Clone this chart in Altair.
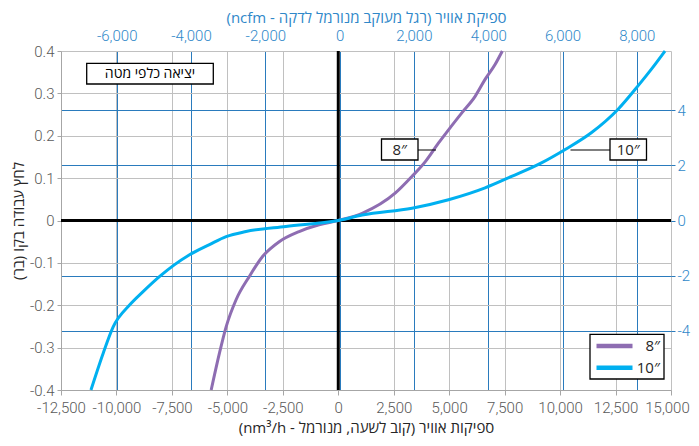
import altair as alt
import pandas as pd

# ---------------- data ----------------
series = ["8\u2033", "10\u2033"]
colors = ["#8e6db2", "#00b0f0"]

x8 = [-5730, -5357, -5056, -4607, -4010, -3413, -2663, -1765, -866, 0,
      1078, 2577, 3323, 3925, 4522, 4971, 5570, 6170, 6619, 7068, 7396]
y8 = [-0.4, -0.313, -0.251, -0.187, -0.132, -0.085, -0.050, -0.026, -0.010, 0,
      0.017, 0.065, 0.104, 0.139, 0.183, 0.214, 0.254, 0.293, 0.333, 0.368, 0.4]

x10 = [-11150, -10597, -10148, -9398, -8801, -8051, -6704, -5806, -5056, -4158,
       -2362, 0, 1078, 3323, 4971, 6619, 7813, 9160, 10211, 11406, 12604,
       13503, 14100, 14729]
y10 = [-0.4, -0.313, -0.251, -0.199, -0.168, -0.132, -0.081, -0.057, -0.038, -0.026,
       -0.014, 0, 0.013, 0.029, 0.049, 0.077, 0.104, 0.136, 0.167, 0.207, 0.262,
       0.317, 0.356, 0.4]

x_ticks = [-12500, -10000, -7500, -5000, -2500, 0, 2500, 5000, 7500, 10000, 12500, 15000]
y_ticks = [-0.4, -0.3, -0.2, -0.1, 0, 0.1, 0.2, 0.3, 0.4]
top_ticks = [-6000, -4000, -2000, 0, 2000, 4000, 6000, 8000]
right_ticks = [-4, -2, 0, 2, 4]
x_domain = [-12500, 15000]
y_domain = [-0.4, 0.4]
top_domain = [-7500, 8920]
right_domain = [-6.15, 6.15]

RLE, PDF = "\u202b", "\u202c"
x_title = RLE + "ספיקות אוויר (קוב לשעה, מנורמל - nm³/h)" + PDF
y_title = RLE + "לחץ עבודה בקו (בר)" + PDF
top_title = RLE + "ספיקת אוויר (רגל מעוקב מנורמל לדקה - ncfm)" + PDF
box_label = "יציאה כלפי מטה"

NUM_FONT = "Roboto"
HEB_FONT = "Open Sans"
GRAY_GRID = "#c0c0c0"
BLUE_GRID = "#2a7bbd"
BLUE_TXT = "#2f88c9"
LBL = "#595959"


def lbl(fmt):
    return "replace(format(datum.value, '%s'), '\u2212', '-')" % fmt


df = pd.DataFrame({
    "x": x8 + x10,
    "y": y8 + y10,
    "s": [series[0]] * len(x8) + [series[1]] * len(x10),
    "o": list(range(len(x8))) + list(range(len(x10))),
})

x_axis = alt.Axis(values=x_ticks, labelExpr=lbl(","), grid=True,
                  gridColor=GRAY_GRID, gridWidth=1, domainColor="#a6a6a6",
                  tickColor="#a6a6a6", tickSize=5, labelPadding=5,
                  labelFontSize=15, labelColor=LBL, labelFont=NUM_FONT,
                  labelFontWeight=300,
                  labelOffset={"condition": {"test": "datum.value == 15000", "value": -4},
                               "value": 0},
                  labelFlush=False, labelOverlap=False, labelBound=False,
                  title=x_title, titleFont=HEB_FONT, titleFontSize=15,
                  titleFontWeight="normal", titleColor="#262626", titlePadding=5)
y_axis = alt.Axis(values=y_ticks, labelExpr=lbl("~g"), grid=True,
                  gridColor=GRAY_GRID, gridWidth=1, domainColor="#a6a6a6",
                  tickColor="#a6a6a6", tickSize=4, labelPadding=3,
                  labelFontSize=15, labelColor=LBL, labelFont=NUM_FONT,
                  labelFontWeight=300,
                  labelFlush=False, labelOverlap=False,
                  title=y_title, titleFont=HEB_FONT, titleFontSize=15,
                  titleFontWeight="normal", titleColor="#262626", titlePadding=3)

X = alt.X("x:Q", scale=alt.Scale(domain=x_domain, nice=False, zero=False), axis=x_axis)
Y = alt.Y("y:Q", scale=alt.Scale(domain=y_domain, nice=False, zero=False), axis=y_axis)

zero_df = pd.DataFrame({"x": [0], "y": [0]})
vrule = alt.Chart(zero_df).mark_rule(color="black", strokeWidth=3).encode(x=X)
hrule = alt.Chart(zero_df).mark_rule(color="black", strokeWidth=3).encode(y=Y)

lines = alt.Chart(df).mark_line(strokeWidth=3, interpolate="monotone").encode(
    x=X, y=Y,
    color=alt.Color("s:N", scale=alt.Scale(domain=series, range=colors), legend=None),
    detail="s:N",
    order="o:Q",
)

one = pd.DataFrame({"t": [box_label]})
# label box top-left
lbox = alt.Chart(one).mark_rect(fill="white", stroke="black", strokeWidth=1.3).encode(
    x=alt.value(25.7), x2=alt.value(152.3), y=alt.value(12.3), y2=alt.value(33))
ltext = alt.Chart(one).mark_text(font=HEB_FONT, fontSize=14, color="black",
                                 align="center", baseline="middle").encode(
    x=alt.value(89), y=alt.value(23), text="t:N")

layers = [vrule, hrule, lines, lbox, ltext]

# curve call-outs
callouts = [
    (series[0], 320.5, 357.0, 357.0, 375.0),
    (series[1], 549.0, 585.5, 509.5, 549.0),
]
for lab, bx0, bx1, lx0, lx1 in callouts:
    d = pd.DataFrame({"t": [lab]})
    layers.append(alt.Chart(d).mark_rule(color="black", strokeWidth=1).encode(
        x=alt.value(lx0), x2=alt.value(lx1), y=alt.value(99)))
    layers.append(alt.Chart(d).mark_rect(fill="white", stroke="black", strokeWidth=1.3).encode(
        x=alt.value(bx0), x2=alt.value(bx1), y=alt.value(88), y2=alt.value(109)))
    layers.append(alt.Chart(d).mark_text(font=HEB_FONT, fontSize=15,
                                         color="#262626",
                                         align="center", baseline="middle").encode(
        x=alt.value((bx0 + bx1) / 2), y=alt.value(99), text="t:N"))

# legend (bottom right)
layers.append(alt.Chart(one).mark_rect(fill="white", stroke="black", strokeWidth=1.3).encode(
    x=alt.value(529), x2=alt.value(603), y=alt.value(283.3), y2=alt.value(328)))
for i, (lab, col) in enumerate(zip(series, colors)):
    yy = 295 + i * 21.7
    d = pd.DataFrame({"t": [lab]})
    layers.append(alt.Chart(d).mark_rule(color=col, strokeWidth=4.5).encode(
        x=alt.value(535.5), x2=alt.value(571.5), y=alt.value(yy)))
    layers.append(alt.Chart(d).mark_text(font=HEB_FONT, fontSize=15,
                                         color="#262626",
                                         align="right", baseline="middle").encode(
        x=alt.value(599), y=alt.value(yy), text="t:N"))

inner = alt.layer(*layers)

# secondary axes (ncfm on top, right scale)
sec_df = pd.DataFrame({"tx": top_domain, "ty": right_domain})
sec = alt.Chart(sec_df).mark_point(opacity=0).encode(
    x=alt.X("tx:Q", scale=alt.Scale(domain=top_domain, nice=False, zero=False),
            axis=alt.Axis(orient="top", values=top_ticks, labelExpr=lbl(","),
                          grid=True, gridColor=BLUE_GRID, gridWidth=1, ticks=False,
                          domain=False, labelPadding=8, labelFontSize=15,
                          labelFontWeight=300,
                          labelColor=BLUE_TXT, labelFont=NUM_FONT, labelFlush=False,
                          labelOverlap=False, title=top_title, titleFont=HEB_FONT,
                          titleFontSize=15, titleFontWeight="normal",
                          titleColor=BLUE_TXT, titlePadding=3)),
    y=alt.Y("ty:Q", scale=alt.Scale(domain=right_domain, nice=False, zero=False),
            axis=alt.Axis(orient="right", values=right_ticks, labelExpr=lbl("d"),
                          grid=True, gridColor=BLUE_GRID, gridWidth=1, tickColor=BLUE_GRID,
                          tickSize=4, domain=False, labelPadding=2, labelFontSize=15,
                          labelFontWeight=300,
                          labelColor=BLUE_TXT, labelFont=NUM_FONT, labelFlush=False,
                          labelOverlap=False, title=None)),
)

chart = alt.layer(inner, sec).resolve_scale(x="independent", y="independent").properties(
    width=610, height=339,
    padding={"left": 53, "top": 43, "right": 20, "bottom": 46},
    autosize=alt.AutoSizeParams(type="none"),
    background="white",
).configure_view(stroke=None)

chart.save("out.html", embed_options={"renderer": "svg", "actions": False})
